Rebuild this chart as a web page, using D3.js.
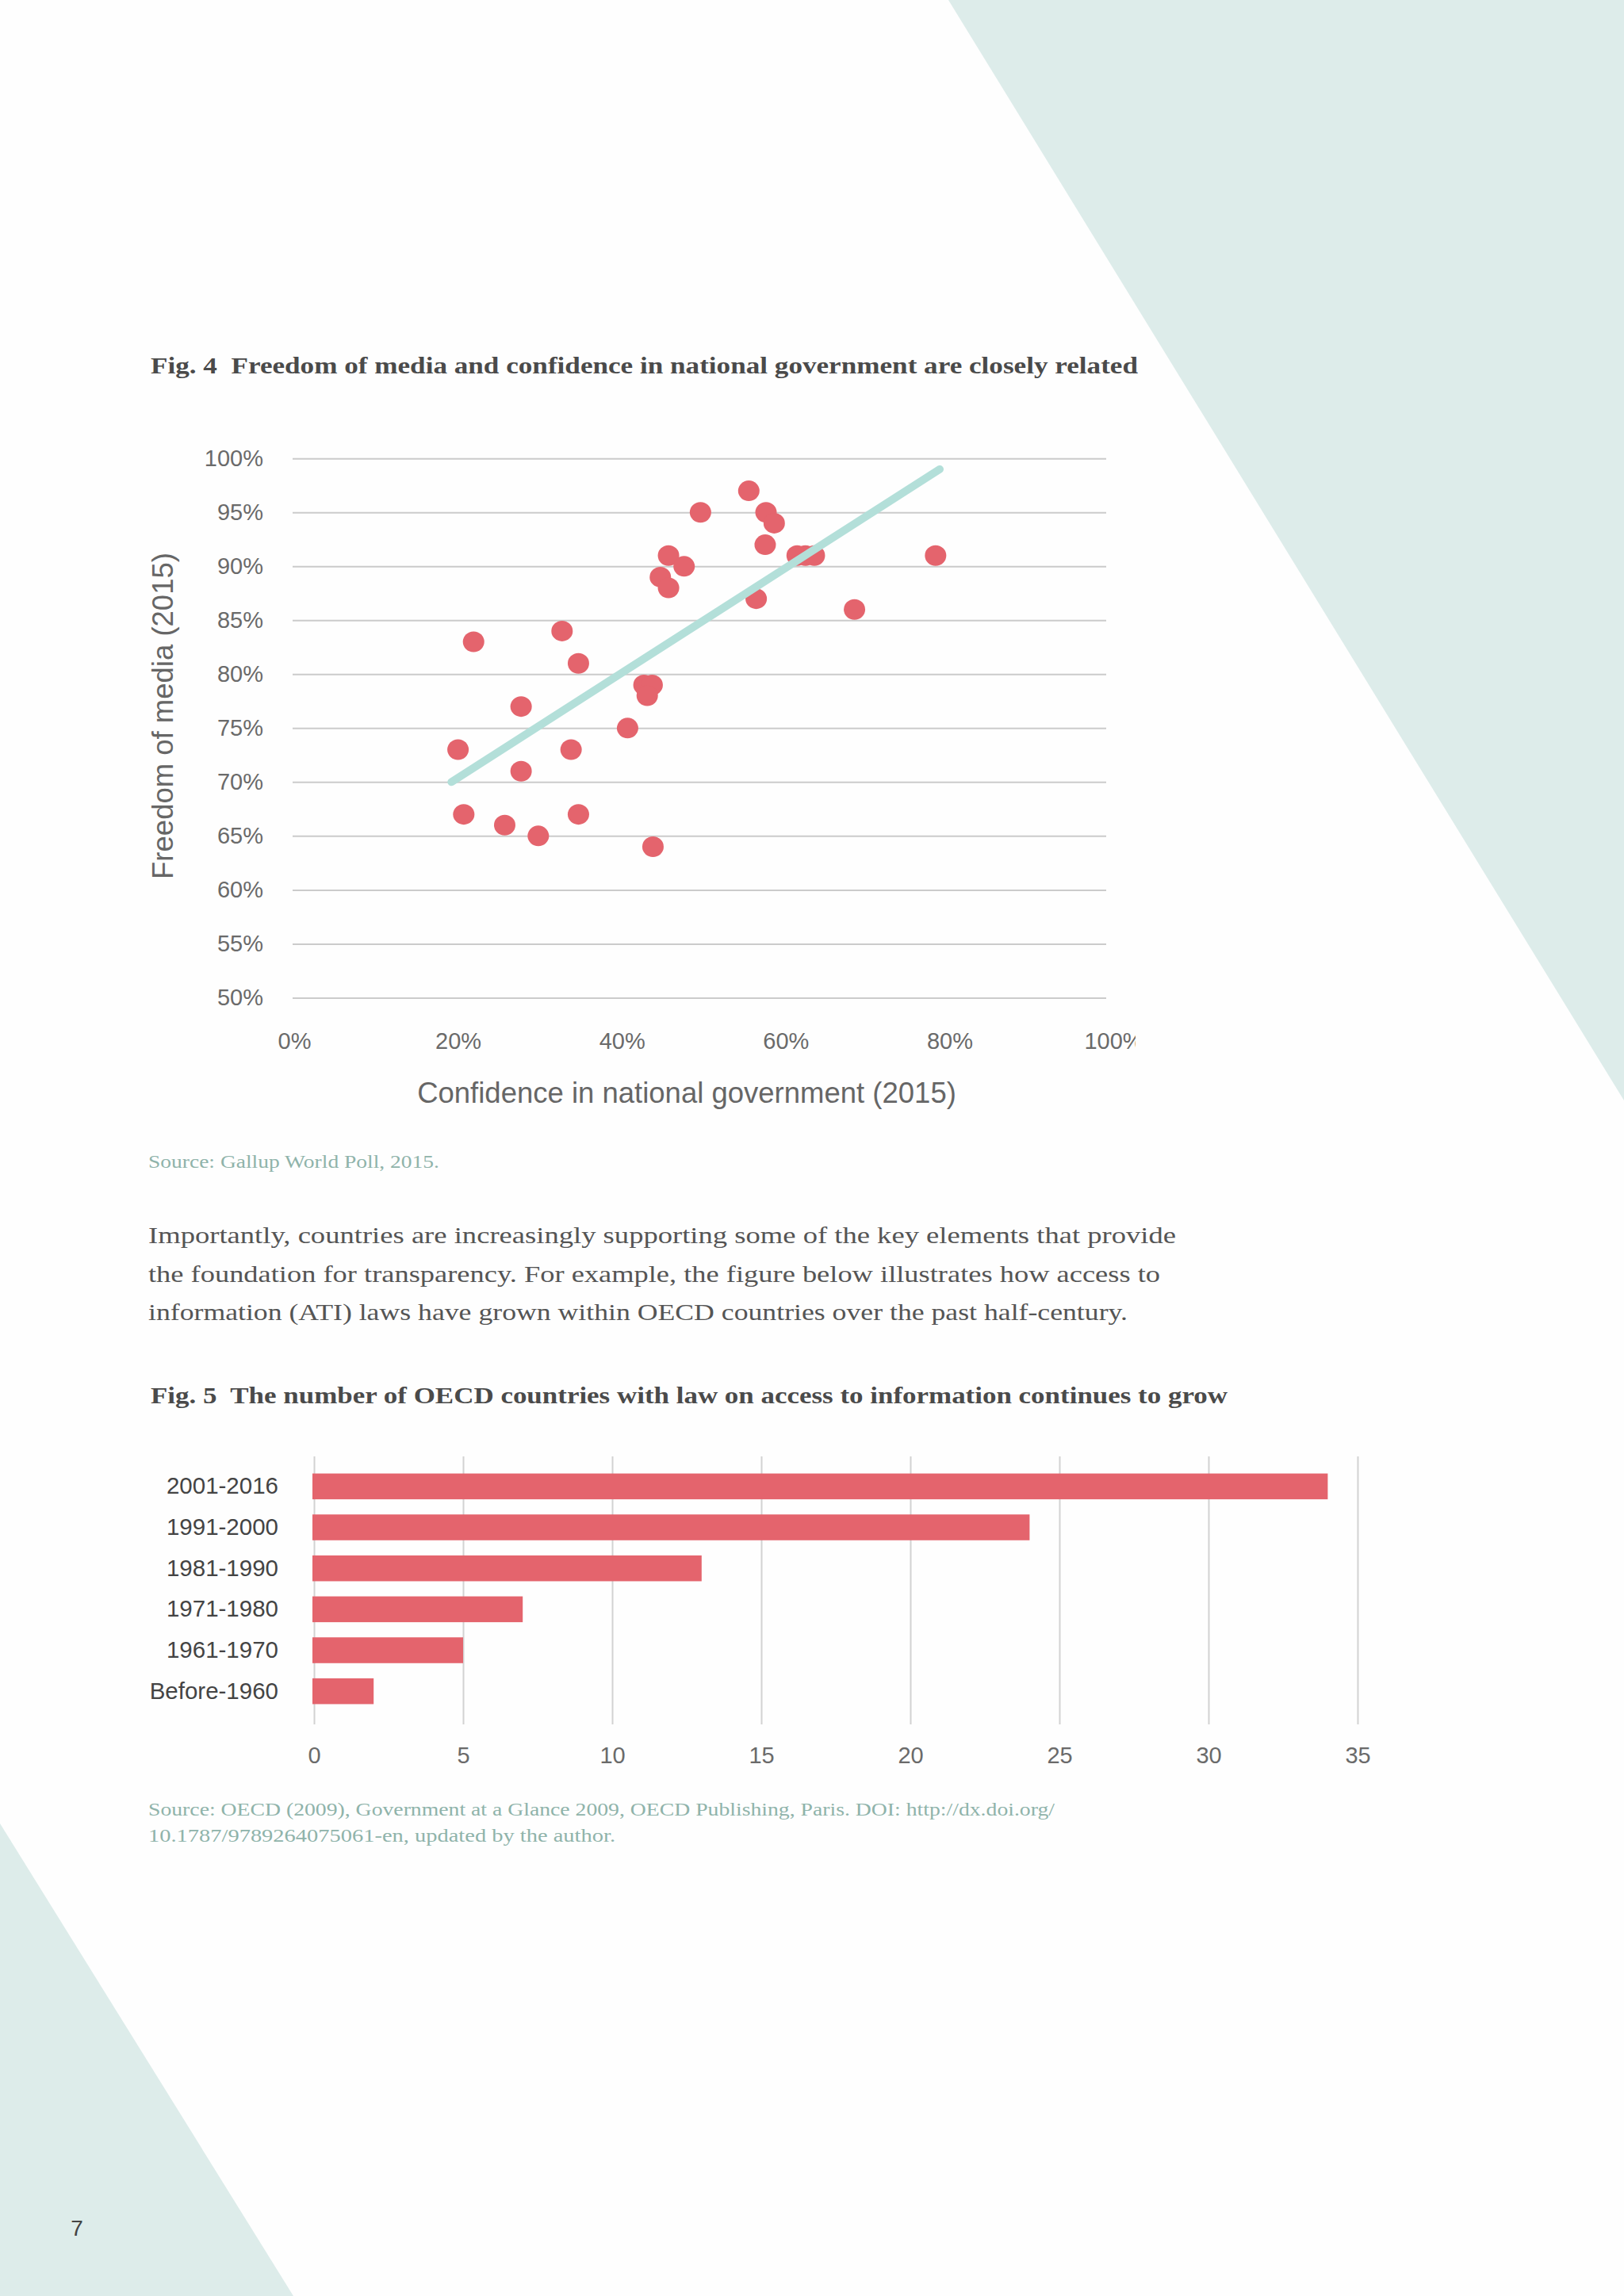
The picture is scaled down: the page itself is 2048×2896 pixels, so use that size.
<!DOCTYPE html>
<html><head><meta charset="utf-8">
<script src="https://cdn.jsdelivr.net/npm/d3@7"></script>
<style>
html,body{margin:0;padding:0;background:#fff;}
svg{display:block;}
text{white-space:pre;}
</style></head>
<body>
<svg id="page" width="2048" height="2896"></svg>
<script>
// ---- Fig. 4 data ----
const confidence = [55.5,49.6,57.6,58.6,57.5,45.7,47.6,44.7,45.7,61.4,62.4,63.5,78.3,56.4,68.4,32.7,21.9,34.7,42.7,43.7,43.1,27.7,40.7,20.0,33.8,27.7,20.7,34.7,25.7,29.8,43.8];
const freedom    = [97,95,95,94,92,91,90,89,88,91,91,91,91,87,86,84,83,81,79,79,78,77,75,73,73,71,67,67,66,65,64];
const trendX = [19.2, 78.8];
const trendY = [70, 99];
const scatterYTicks = [50,55,60,65,70,75,80,85,90,95,100];
const scatterXTicks = [0,20,40,60,80,100];

// ---- Fig. 5 data ----
const periods = ["2001-2016","1991-2000","1981-1990","1971-1980","1961-1970","Before-1960"];
const counts = [34,24,13,7,5,2];
const barTicks = [0,5,10,15,20,25,30,35];

const svg = d3.select("#page");
const bg = "#ddecea";
const red = "#e4646d";
const teal = "#b3dfd9";
const srcColor = "#8fb3aa";
const sans = "'Liberation Sans', Arial, Helvetica, sans-serif";
const serif = "'Liberation Serif', serif";

svg.append("rect").attr("width",2048).attr("height",2896).attr("fill","#fefefe");
svg.append("polygon").attr("points","1196,0 2048,0 2048,1388").attr("fill",bg);
svg.append("polygon").attr("points","0,2300 370,2896 0,2896").attr("fill",bg);

function txt(x,y,s,opt){
  const t = svg.append("text").attr("x",x).attr("y",y).text(s)
    .attr("font-family",opt.family||serif).attr("font-size",opt.size)
    .attr("fill",opt.fill||"#444").attr("font-weight",opt.weight||"normal");
  if(opt.len) t.attr("textLength",opt.len).attr("lengthAdjust","spacingAndGlyphs");
  if(opt.anchor) t.attr("text-anchor",opt.anchor);
  return t;
}

// Titles & texts
txt(190,471,"Fig. 4\u00a0 Freedom of media and confidence in national government are closely related",{size:30,weight:"bold",fill:"#4a4a4a",len:1245});
txt(187,1473,"Source: Gallup World Poll, 2015.",{size:24,fill:srcColor,len:367});
txt(187,1568,"Importantly, countries are increasingly supporting some of the key elements that provide",{size:30,fill:"#555",len:1296});
txt(187,1617,"the foundation for transparency. For example, the figure below illustrates how access to",{size:30,fill:"#555",len:1276});
txt(187,1665,"information (ATI) laws have grown within OECD countries over the past half-century.",{size:30,fill:"#555",len:1235});
txt(190,1770,"Fig. 5\u00a0 The number of OECD countries with law on access to information continues to grow",{size:30,weight:"bold",fill:"#4a4a4a",len:1358});
txt(187,2290,"Source: OECD (2009), Government at a Glance 2009, OECD Publishing, Paris. DOI: http://dx.doi.org/",{size:24,fill:srcColor,len:1143});
txt(187,2323,"10.1787/9789264075061-en, updated by the author.",{size:24,fill:srcColor,len:589});
txt(97,2820,"7",{size:28,fill:"#444",family:sans,anchor:"middle"});

// ---- Scatter ----
const x = d3.scaleLinear().domain([0,100]).range([371,1404]);
const y = d3.scaleLinear().domain([50,100]).range([1258.4,578.3]);

const grid = svg.append("g").attr("transform","translate(369,0)")
  .call(d3.axisRight(y).tickValues(scatterYTicks).tickSize(1026).tickFormat(""));
grid.select(".domain").remove();
grid.selectAll("line").attr("stroke","#cbcbcb").attr("stroke-width",2);

const yAx = svg.append("g").attr("transform","translate(332,0)")
  .call(d3.axisLeft(y).tickValues(scatterYTicks).tickSize(0).tickPadding(0).tickFormat(d=>d+"%"));
yAx.select(".domain").remove();
yAx.selectAll("text").attr("font-family",sans).attr("font-size",29).attr("fill","#6a6a6a").attr("dy","0.3em");

svg.append("defs").append("clipPath").attr("id","clipX").append("rect").attr("x",0).attr("y",-30).attr("width",1432).attr("height",80);
const xAx = svg.append("g").attr("transform","translate(0,1302)")
  .call(d3.axisBottom(x).tickValues(scatterXTicks).tickSize(0).tickPadding(0).tickFormat(d=>d+"%"));
xAx.select(".domain").remove();
xAx.selectAll("text").attr("font-family",sans).attr("font-size",29).attr("fill","#6a6a6a");
xAx.attr("clip-path","url(#clipX)");

txt(866,1391,"Confidence in national government (2015)",{size:36.5,fill:"#666",family:sans,anchor:"middle"});
svg.append("text").attr("transform","translate(218,903) rotate(-90)").attr("text-anchor","middle")
  .attr("font-family",sans).attr("font-size",36.5).attr("fill","#666").text("Freedom of media (2015)");

const pts = confidence.map((c,i)=>({c, f:freedom[i]}));
svg.append("g").selectAll("ellipse").data(pts).join("ellipse")
  .attr("cx",d=>x(d.c)).attr("cy",d=>y(d.f)).attr("rx",13.5).attr("ry",13).attr("fill",red);

svg.append("line").attr("x1",x(trendX[0])).attr("y1",y(trendY[0])).attr("x2",x(trendX[1])).attr("y2",y(trendY[1]))
  .attr("stroke",teal).attr("stroke-width",10).attr("stroke-linecap","round");

// ---- Bar chart ----
const bx = d3.scaleLinear().domain([0,35]).range([396,1712]);
const by = d3.scaleBand().domain(periods).range([1849,2159]).paddingInner(0.37).paddingOuter(0.185);

const vgrid = svg.append("g").attr("transform","translate(0,1837)")
  .call(d3.axisBottom(bx).tickValues(barTicks).tickSize(338).tickFormat(""));
vgrid.select(".domain").remove();
vgrid.selectAll("line").attr("stroke","#d2d2d2").attr("stroke-width",2);

svg.append("g").selectAll("rect").data(periods).join("rect")
  .attr("x",bx(0)-2).attr("y",d=>by(d)).attr("width",(d,i)=>bx(counts[i])-bx(0)+2).attr("height",by.bandwidth())
  .attr("fill",red);

const byAx = svg.append("g").attr("transform","translate(351,0)")
  .call(d3.axisLeft(by).tickSize(0).tickPadding(0));
byAx.select(".domain").remove();
byAx.selectAll("text").attr("font-family",sans).attr("font-size",29.5).attr("fill","#444");

const bxAx = svg.append("g").attr("transform","translate(0,2203)")
  .call(d3.axisBottom(bx).tickValues(barTicks).tickSize(0).tickPadding(0));
bxAx.select(".domain").remove();
bxAx.selectAll("text").attr("font-family",sans).attr("font-size",29).attr("fill","#6a6a6a");
</script>
</body></html>
